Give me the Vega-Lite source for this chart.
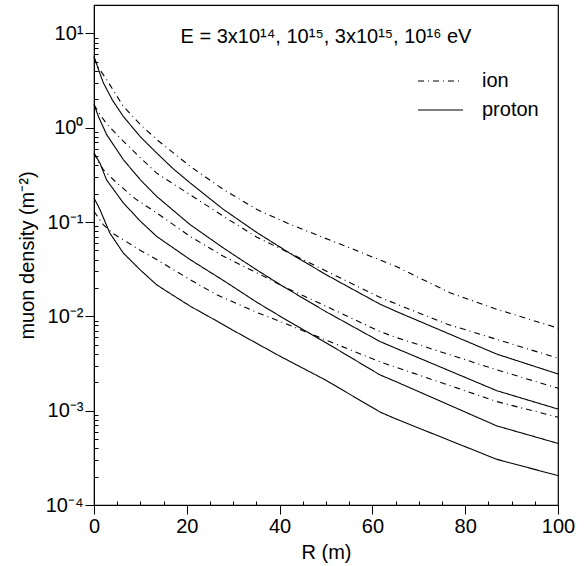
{
  "$schema": "https://vega.github.io/schema/vega-lite/v6.json",
  "width": 464,
  "height": 500,
  "autosize": {"type": "none"},
  "padding": {"left": 94, "top": 5, "right": 26, "bottom": 61},
  "config": {
    "font": "Liberation Sans",
    "view": {"stroke": "black", "strokeWidth": 1.2},
    "axis": {
      "grid": false,
      "labelColor": "black",
      "titleColor": "black",
      "labelFontSize": 20,
      "titleFontSize": 20,
      "titleFontWeight": "normal",
      "labelFlush": false
    }
  },
  "title": {
    "text": "E = 3x10¹⁴, 10¹⁵, 3x10¹⁵, 10¹⁶ eV",
    "frame": "group",
    "anchor": "middle",
    "baseline": "alphabetic",
    "offset": -37,
    "dy": 21,
    "fontSize": 20,
    "fontWeight": "normal",
    "color": "black"
  },
  "data": {
    "values": [
      {"R": 0, "density": 5.7, "type": "proton", "curve": "p4"},
      {"R": 1, "density": 4.1, "type": "proton", "curve": "p4"},
      {"R": 2, "density": 3.0, "type": "proton", "curve": "p4"},
      {"R": 4, "density": 1.95, "type": "proton", "curve": "p4"},
      {"R": 6.3, "density": 1.32, "type": "proton", "curve": "p4"},
      {"R": 10, "density": 0.8, "type": "proton", "curve": "p4"},
      {"R": 13.5, "density": 0.54, "type": "proton", "curve": "p4"},
      {"R": 17, "density": 0.37, "type": "proton", "curve": "p4"},
      {"R": 20.7, "density": 0.26, "type": "proton", "curve": "p4"},
      {"R": 27.9, "density": 0.136, "type": "proton", "curve": "p4"},
      {"R": 35.1, "density": 0.0774, "type": "proton", "curve": "p4"},
      {"R": 42.2, "density": 0.0467, "type": "proton", "curve": "p4"},
      {"R": 50, "density": 0.0277, "type": "proton", "curve": "p4"},
      {"R": 55, "density": 0.0203, "type": "proton", "curve": "p4"},
      {"R": 61.6, "density": 0.0135, "type": "proton", "curve": "p4"},
      {"R": 65, "density": 0.01135, "type": "proton", "curve": "p4"},
      {"R": 86.8, "density": 0.00398, "type": "proton", "curve": "p4"},
      {"R": 100, "density": 0.00245, "type": "proton", "curve": "p4"},

      {"R": 0, "density": 5.5, "type": "ion", "curve": "i4"},
      {"R": 1, "density": 4.3, "type": "ion", "curve": "i4"},
      {"R": 2.7, "density": 3.25, "type": "ion", "curve": "i4"},
      {"R": 6.3, "density": 1.69, "type": "ion", "curve": "i4"},
      {"R": 10, "density": 1.08, "type": "ion", "curve": "i4"},
      {"R": 13.5, "density": 0.75, "type": "ion", "curve": "i4"},
      {"R": 20.7, "density": 0.39, "type": "ion", "curve": "i4"},
      {"R": 27.9, "density": 0.221, "type": "ion", "curve": "i4"},
      {"R": 35.1, "density": 0.136, "type": "ion", "curve": "i4"},
      {"R": 41.5, "density": 0.098, "type": "ion", "curve": "i4"},
      {"R": 48, "density": 0.073, "type": "ion", "curve": "i4"},
      {"R": 55.2, "density": 0.053, "type": "ion", "curve": "i4"},
      {"R": 65, "density": 0.034, "type": "ion", "curve": "i4"},
      {"R": 76.7, "density": 0.0178, "type": "ion", "curve": "i4"},
      {"R": 86.8, "density": 0.0119, "type": "ion", "curve": "i4"},
      {"R": 100, "density": 0.0075, "type": "ion", "curve": "i4"},

      {"R": 0, "density": 1.76, "type": "ion", "curve": "i3"},
      {"R": 1, "density": 1.45, "type": "ion", "curve": "i3"},
      {"R": 2.7, "density": 1.1, "type": "ion", "curve": "i3"},
      {"R": 6.3, "density": 0.72, "type": "ion", "curve": "i3"},
      {"R": 10, "density": 0.48, "type": "ion", "curve": "i3"},
      {"R": 13.5, "density": 0.33, "type": "ion", "curve": "i3"},
      {"R": 20.7, "density": 0.195, "type": "ion", "curve": "i3"},
      {"R": 27.9, "density": 0.115, "type": "ion", "curve": "i3"},
      {"R": 35.1, "density": 0.069, "type": "ion", "curve": "i3"},
      {"R": 42.2, "density": 0.0468, "type": "ion", "curve": "i3"},
      {"R": 50, "density": 0.0303, "type": "ion", "curve": "i3"},
      {"R": 61.6, "density": 0.0159, "type": "ion", "curve": "i3"},
      {"R": 76, "density": 0.0083, "type": "ion", "curve": "i3"},
      {"R": 86.8, "density": 0.0057, "type": "ion", "curve": "i3"},
      {"R": 100, "density": 0.0036, "type": "ion", "curve": "i3"},

      {"R": 0, "density": 1.76, "type": "proton", "curve": "p3"},
      {"R": 1, "density": 1.3, "type": "proton", "curve": "p3"},
      {"R": 2.7, "density": 0.85, "type": "proton", "curve": "p3"},
      {"R": 6.3, "density": 0.46, "type": "proton", "curve": "p3"},
      {"R": 10, "density": 0.28, "type": "proton", "curve": "p3"},
      {"R": 13.5, "density": 0.187, "type": "proton", "curve": "p3"},
      {"R": 20.7, "density": 0.094, "type": "proton", "curve": "p3"},
      {"R": 27.9, "density": 0.053, "type": "proton", "curve": "p3"},
      {"R": 35.1, "density": 0.031, "type": "proton", "curve": "p3"},
      {"R": 40.8, "density": 0.0207, "type": "proton", "curve": "p3"},
      {"R": 50, "density": 0.0112, "type": "proton", "curve": "p3"},
      {"R": 61.6, "density": 0.00542, "type": "proton", "curve": "p3"},
      {"R": 65, "density": 0.0046, "type": "proton", "curve": "p3"},
      {"R": 86.8, "density": 0.00163, "type": "proton", "curve": "p3"},
      {"R": 100, "density": 0.00104, "type": "proton", "curve": "p3"},

      {"R": 0, "density": 0.54, "type": "ion", "curve": "i2"},
      {"R": 1, "density": 0.43, "type": "ion", "curve": "i2"},
      {"R": 2, "density": 0.36, "type": "ion", "curve": "i2"},
      {"R": 4.9, "density": 0.26, "type": "ion", "curve": "i2"},
      {"R": 9, "density": 0.175, "type": "ion", "curve": "i2"},
      {"R": 13.5, "density": 0.125, "type": "ion", "curve": "i2"},
      {"R": 20.7, "density": 0.0705, "type": "ion", "curve": "i2"},
      {"R": 27.9, "density": 0.0433, "type": "ion", "curve": "i2"},
      {"R": 35.1, "density": 0.0289, "type": "ion", "curve": "i2"},
      {"R": 41.5, "density": 0.02, "type": "ion", "curve": "i2"},
      {"R": 50, "density": 0.0128, "type": "ion", "curve": "i2"},
      {"R": 61.6, "density": 0.0069, "type": "ion", "curve": "i2"},
      {"R": 65, "density": 0.006, "type": "ion", "curve": "i2"},
      {"R": 86.8, "density": 0.00271, "type": "ion", "curve": "i2"},
      {"R": 100, "density": 0.00173, "type": "ion", "curve": "i2"},

      {"R": 0, "density": 0.54, "type": "proton", "curve": "p2"},
      {"R": 1.3, "density": 0.42, "type": "proton", "curve": "p2"},
      {"R": 2.7, "density": 0.28, "type": "proton", "curve": "p2"},
      {"R": 6.3, "density": 0.16, "type": "proton", "curve": "p2"},
      {"R": 10, "density": 0.102, "type": "proton", "curve": "p2"},
      {"R": 13.5, "density": 0.0705, "type": "proton", "curve": "p2"},
      {"R": 20.7, "density": 0.04, "type": "proton", "curve": "p2"},
      {"R": 27.9, "density": 0.024, "type": "proton", "curve": "p2"},
      {"R": 35.1, "density": 0.0141, "type": "proton", "curve": "p2"},
      {"R": 41, "density": 0.00944, "type": "proton", "curve": "p2"},
      {"R": 50, "density": 0.00525, "type": "proton", "curve": "p2"},
      {"R": 61.6, "density": 0.0024, "type": "proton", "curve": "p2"},
      {"R": 65, "density": 0.00204, "type": "proton", "curve": "p2"},
      {"R": 86.8, "density": 0.00069, "type": "proton", "curve": "p2"},
      {"R": 100, "density": 0.00045, "type": "proton", "curve": "p2"},

      {"R": 0, "density": 0.13, "type": "ion", "curve": "i1"},
      {"R": 1, "density": 0.11, "type": "ion", "curve": "i1"},
      {"R": 2, "density": 0.094, "type": "ion", "curve": "i1"},
      {"R": 4, "density": 0.076, "type": "ion", "curve": "i1"},
      {"R": 6.3, "density": 0.065, "type": "ion", "curve": "i1"},
      {"R": 10, "density": 0.05, "type": "ion", "curve": "i1"},
      {"R": 13.5, "density": 0.04, "type": "ion", "curve": "i1"},
      {"R": 20.7, "density": 0.0245, "type": "ion", "curve": "i1"},
      {"R": 26.4, "density": 0.017, "type": "ion", "curve": "i1"},
      {"R": 35.1, "density": 0.011, "type": "ion", "curve": "i1"},
      {"R": 41.5, "density": 0.0083, "type": "ion", "curve": "i1"},
      {"R": 50, "density": 0.0056, "type": "ion", "curve": "i1"},
      {"R": 61.6, "density": 0.0033, "type": "ion", "curve": "i1"},
      {"R": 86.8, "density": 0.00125, "type": "ion", "curve": "i1"},
      {"R": 100, "density": 0.00085, "type": "ion", "curve": "i1"},

      {"R": 0, "density": 0.18, "type": "proton", "curve": "p1"},
      {"R": 1.3, "density": 0.135, "type": "proton", "curve": "p1"},
      {"R": 3.4, "density": 0.0766, "type": "proton", "curve": "p1"},
      {"R": 6.3, "density": 0.047, "type": "proton", "curve": "p1"},
      {"R": 9.9, "density": 0.0313, "type": "proton", "curve": "p1"},
      {"R": 13.5, "density": 0.0216, "type": "proton", "curve": "p1"},
      {"R": 17.8, "density": 0.0158, "type": "proton", "curve": "p1"},
      {"R": 21, "density": 0.0126, "type": "proton", "curve": "p1"},
      {"R": 25, "density": 0.0098, "type": "proton", "curve": "p1"},
      {"R": 30, "density": 0.0071, "type": "proton", "curve": "p1"},
      {"R": 40, "density": 0.0038, "type": "proton", "curve": "p1"},
      {"R": 50, "density": 0.0021, "type": "proton", "curve": "p1"},
      {"R": 61.6, "density": 0.00097, "type": "proton", "curve": "p1"},
      {"R": 65, "density": 0.00082, "type": "proton", "curve": "p1"},
      {"R": 86.8, "density": 0.000305, "type": "proton", "curve": "p1"},
      {"R": 100, "density": 0.000205, "type": "proton", "curve": "p1"}
    ]
  },
  "layer": [
    {
      "mark": {"type": "line", "strokeWidth": 1.1, "color": "black"},
      "encoding": {
        "x": {
          "field": "R",
          "type": "quantitative",
          "scale": {"domain": [0, 100], "nice": false},
          "axis": {
            "orient": "bottom",
            "title": "R (m)",
            "values": [0, 20, 40, 60, 80, 100],
            "domain": true,
            "domainColor": "black",
            "ticks": true,
            "tickColor": "black",
            "tickSize": 9,
            "labelPadding": 2,
            "titlePadding": 6
          }
        },
        "y": {
          "field": "density",
          "type": "quantitative",
          "scale": {"type": "log", "domain": [0.0001, 20], "nice": false},
          "axis": {
            "orient": "left",
            "title": "muon density (m⁻²)",
            "values": [0.0001, 0.001, 0.01, 0.1, 1, 10],
            "labelExpr": "datum.value == 10 ? '10¹' : datum.value == 1 ? '10⁰' : datum.value == 0.1 ? '10⁻¹' : datum.value == 0.01 ? '10⁻²' : datum.value == 0.001 ? '10⁻³' : datum.value == 0.0001 ? '10⁻⁴' : ''",
            "domain": true,
            "domainColor": "black",
            "ticks": true,
            "tickColor": "black",
            "tickSize": 9,
            "labelPadding": 2,
            "titlePadding": 8
          }
        },
        "strokeDash": {
          "field": "type",
          "type": "nominal",
          "scale": {"domain": ["ion", "proton"], "range": [[6, 4, 1, 4], [1, 0]]},
          "legend": {
            "title": null,
            "orient": "none",
            "legendX": 323,
            "legendY": 66,
            "padding": 0,
            "symbolType": "stroke",
            "symbolSize": 2025,
            "symbolStrokeWidth": 1.1,
            "symbolStrokeColor": "black",
            "clipHeight": 20,
            "labelFontSize": 20,
            "labelColor": "black",
            "labelOffset": 18,
            "rowPadding": 9
          }
        },
        "detail": {"field": "curve", "type": "nominal"}
      }
    },
    {
      "mark": {"type": "line", "strokeOpacity": 0},
      "encoding": {
        "x": {
          "field": "R",
          "type": "quantitative",
          "axis": {
            "orient": "bottom",
            "title": null,
            "labels": false,
            "domain": false,
            "ticks": true,
            "tickColor": "black",
            "values": [5, 10, 15, 25, 30, 35, 45, 50, 55, 65, 70, 75, 85, 90, 95],
            "offset": -4,
            "tickSize": 4
          }
        },
        "y": {
          "field": "density",
          "type": "quantitative",
          "axis": {
            "orient": "left",
            "title": null,
            "labels": false,
            "domain": false,
            "ticks": true,
            "tickColor": "black",
            "values": [0.0002, 0.0003, 0.0004, 0.0005, 0.0006, 0.0007, 0.0008, 0.0009,
                       0.002, 0.003, 0.004, 0.005, 0.006, 0.007, 0.008, 0.009,
                       0.02, 0.03, 0.04, 0.05, 0.06, 0.07, 0.08, 0.09,
                       0.2, 0.3, 0.4, 0.5, 0.6, 0.7, 0.8, 0.9,
                       2, 3, 4, 5, 6, 7, 8, 9, 20],
            "offset": -4,
            "tickSize": 4
          }
        },
        "detail": {"field": "curve", "type": "nominal"}
      }
    }
  ],
  "resolve": {"axis": {"x": "independent", "y": "independent"}}
}
